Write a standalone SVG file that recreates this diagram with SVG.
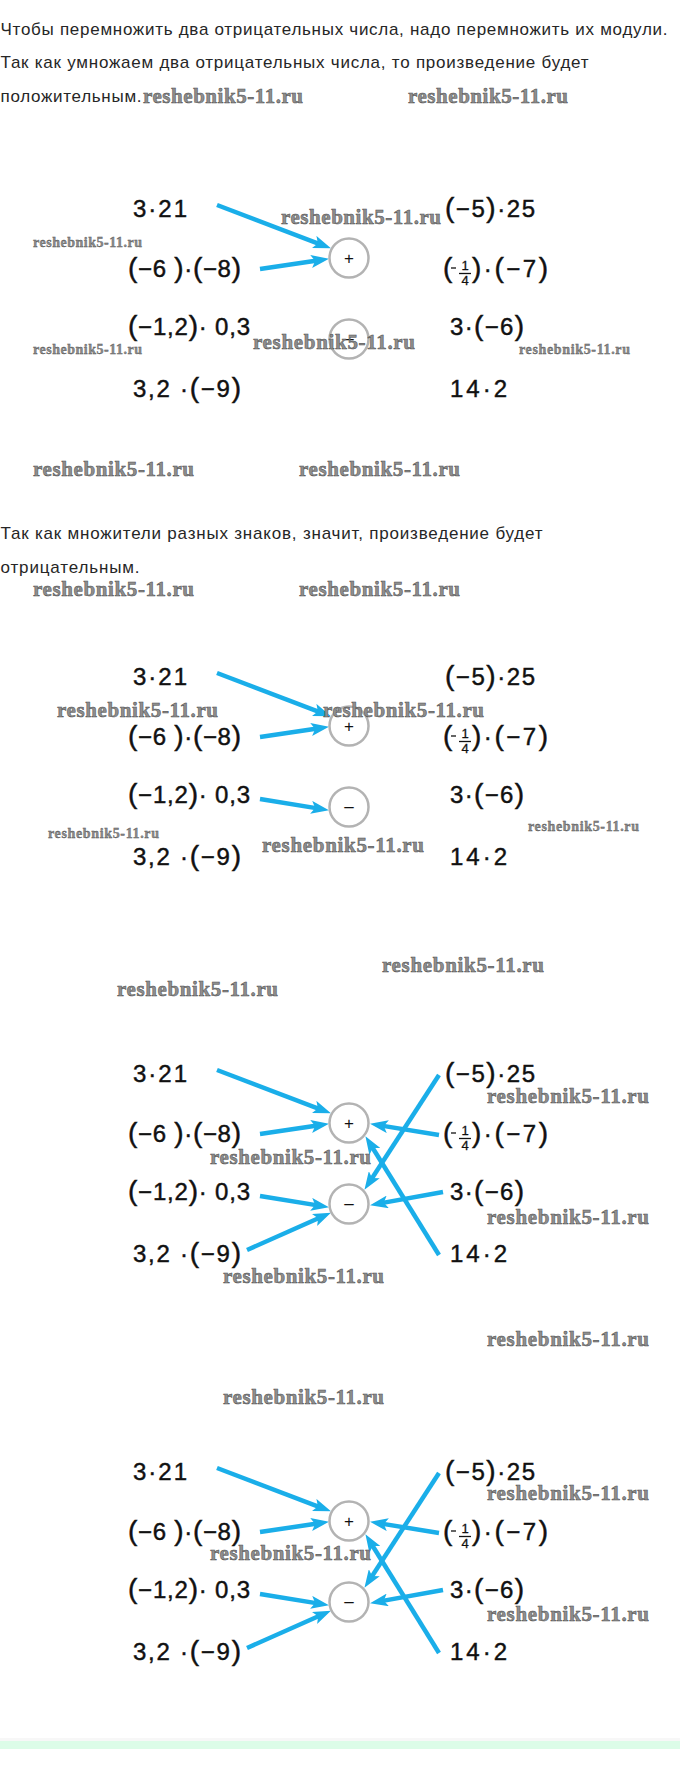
<svg xmlns="http://www.w3.org/2000/svg" width="680" height="1785" viewBox="0 0 680 1785">
<style>
.t{font-family:"Liberation Sans",Arial,sans-serif;font-size:17px;fill:#262626}
.m{font-family:"Liberation Sans",Arial,sans-serif;font-size:24px;fill:#111;stroke:#111;stroke-width:0.45}
.p{font-size:28px}
.fr{font-family:"Liberation Sans",Arial,sans-serif;font-size:13px;fill:#111;stroke:#111;stroke-width:0.3}
.sg{font-family:"Liberation Sans",Arial,sans-serif;font-size:17px;fill:#111;text-anchor:middle}
.c{fill:#fff;stroke:#b3b3b3;stroke-width:2.5}
.a{stroke:#1aaee9;stroke-width:4.5;fill:none;marker-end:url(#ah)}
.fl{stroke:#111;stroke-width:1.3}
.w{font-family:"Liberation Serif","Times New Roman",serif;font-weight:bold;font-size:21px;fill:#8e8e8e;stroke:#4d4d4d;stroke-width:0.5}
.ws{font-size:14px;stroke-width:0.35}
</style>
<defs>
<marker id="ah" markerUnits="userSpaceOnUse" markerWidth="18" markerHeight="13" refX="8" refY="6.5" orient="auto" viewBox="0 0 18 13"><path d="M0,0 L18,6.5 L0,13 L4,6.5 Z" fill="#1aaee9"/></marker>
</defs>
<rect width="680" height="1785" fill="#fff"/>

<g id="text">
<text class="t" x="0.5" y="35" textLength="667">Чтобы перемножить два отрицательных числа, надо перемножить их модули.</text>
<text class="t" x="0.5" y="68" textLength="588">Так как умножаем два отрицательных числа, то произведение будет</text>
<text class="t" x="0.5" y="102" textLength="141">положительным.</text>
<text class="t" x="0.5" y="539" textLength="542">Так как множители разных знаков, значит, произведение будет</text>
<text class="t" x="0.5" y="573" textLength="139">отрицательным.</text>
</g>

<!-- Diagram 1 -->
<g id="d1">
<g id="d1-connectors">
<line class="a" x1="217" y1="205" x2="321.6" y2="244.8"/>
<line class="a" x1="260" y1="269" x2="319.1" y2="260.3"/>
</g>
<g id="d1-plus"><circle class="c" cx="349" cy="258" r="19.5"/><text class="sg" x="349" y="264">+</text></g>
<g id="d1-minus"><circle class="c" cx="349" cy="339" r="19.5"/><text class="sg" x="349" y="344">–</text></g>
<g id="d1-l1"><text class="m" x="133" y="217" textLength="54">3·21</text></g>
<g id="d1-l2"><text class="m" x="128" y="277" textLength="113"><tspan class="p">(</tspan>−6 <tspan class="p">)</tspan>·<tspan class="p">(</tspan>−8<tspan class="p">)</tspan></text></g>
<g id="d1-l3"><text class="m" x="128" y="335" textLength="122"><tspan class="p">(</tspan>−1,2<tspan class="p">)</tspan>· 0,3</text></g>
<g id="d1-l4"><text class="m" x="133" y="397" textLength="108">3,2 ·<tspan class="p">(</tspan>−9<tspan class="p">)</tspan></text></g>
<g id="d1-r1"><text class="m" x="445" y="217" textLength="90"><tspan class="p">(</tspan>−5<tspan class="p">)</tspan>·25</text></g>
<g id="d1-r2"><text class="m" x="443" y="277"><tspan class="p">(</tspan></text><line class="fl" x1="451" y1="268" x2="456" y2="268"/><text class="fr" x="465" y="270" text-anchor="middle">1</text><line class="fl" x1="459" y1="273.5" x2="471" y2="273.5"/><text class="fr" x="465" y="285" text-anchor="middle">4</text><text class="m" x="472" y="277" textLength="76"><tspan class="p">)</tspan>·<tspan class="p">(</tspan>−7<tspan class="p">)</tspan></text></g>
<g id="d1-r3"><text class="m" x="450" y="335" textLength="74">3·<tspan class="p">(</tspan>−6<tspan class="p">)</tspan></text></g>
<g id="d1-r4"><text class="m" x="450" y="397" textLength="57">14·2</text></g>
</g>

<!-- Diagram 2 -->
<g id="d2" transform="translate(0,468)">
<g id="d2-connectors">
<line class="a" x1="217" y1="205" x2="321.6" y2="244.8"/>
<line class="a" x1="260" y1="269" x2="319.1" y2="260.3"/>
<line class="a" x1="260" y1="331" x2="319.1" y2="340.6"/>
</g>
<g id="d2-plus"><circle class="c" cx="349" cy="258" r="19.5"/><text class="sg" x="349" y="264">+</text></g>
<g id="d2-minus"><circle class="c" cx="349" cy="339" r="19.5"/><text class="sg" x="349" y="344">–</text></g>
<g id="d2-l1"><text class="m" x="133" y="217" textLength="54">3·21</text></g>
<g id="d2-l2"><text class="m" x="128" y="277" textLength="113"><tspan class="p">(</tspan>−6 <tspan class="p">)</tspan>·<tspan class="p">(</tspan>−8<tspan class="p">)</tspan></text></g>
<g id="d2-l3"><text class="m" x="128" y="335" textLength="122"><tspan class="p">(</tspan>−1,2<tspan class="p">)</tspan>· 0,3</text></g>
<g id="d2-l4"><text class="m" x="133" y="397" textLength="108">3,2 ·<tspan class="p">(</tspan>−9<tspan class="p">)</tspan></text></g>
<g id="d2-r1"><text class="m" x="445" y="217" textLength="90"><tspan class="p">(</tspan>−5<tspan class="p">)</tspan>·25</text></g>
<g id="d2-r2"><text class="m" x="443" y="277"><tspan class="p">(</tspan></text><line class="fl" x1="451" y1="268" x2="456" y2="268"/><text class="fr" x="465" y="270" text-anchor="middle">1</text><line class="fl" x1="459" y1="273.5" x2="471" y2="273.5"/><text class="fr" x="465" y="285" text-anchor="middle">4</text><text class="m" x="472" y="277" textLength="76"><tspan class="p">)</tspan>·<tspan class="p">(</tspan>−7<tspan class="p">)</tspan></text></g>
<g id="d2-r3"><text class="m" x="450" y="335" textLength="74">3·<tspan class="p">(</tspan>−6<tspan class="p">)</tspan></text></g>
<g id="d2-r4"><text class="m" x="450" y="397" textLength="57">14·2</text></g>
</g>

<!-- Diagram 3 -->
<g id="d3" transform="translate(0,865)">
<g id="d3-connectors">
<line class="a" x1="217" y1="205" x2="321.6" y2="244.8"/>
<line class="a" x1="260" y1="269" x2="319.1" y2="260.3"/>
<line class="a" x1="260" y1="331" x2="319.1" y2="340.6"/>
<line class="a" x1="247" y1="385" x2="321.8" y2="351.7"/>
<line class="a" x1="439" y1="210" x2="369.9" y2="316.4"/>
<line class="a" x1="439" y1="270" x2="379.9" y2="260.4"/>
<line class="a" x1="443" y1="327" x2="379.9" y2="338.4"/>
<line class="a" x1="439" y1="390" x2="370.7" y2="279.7"/>
</g>
<g id="d3-plus"><circle class="c" cx="349" cy="258" r="19.5"/><text class="sg" x="349" y="264">+</text></g>
<g id="d3-minus"><circle class="c" cx="349" cy="339" r="19.5"/><text class="sg" x="349" y="344">–</text></g>
<g id="d3-l1"><text class="m" x="133" y="217" textLength="54">3·21</text></g>
<g id="d3-l2"><text class="m" x="128" y="277" textLength="113"><tspan class="p">(</tspan>−6 <tspan class="p">)</tspan>·<tspan class="p">(</tspan>−8<tspan class="p">)</tspan></text></g>
<g id="d3-l3"><text class="m" x="128" y="335" textLength="122"><tspan class="p">(</tspan>−1,2<tspan class="p">)</tspan>· 0,3</text></g>
<g id="d3-l4"><text class="m" x="133" y="397" textLength="108">3,2 ·<tspan class="p">(</tspan>−9<tspan class="p">)</tspan></text></g>
<g id="d3-r1"><text class="m" x="445" y="217" textLength="90"><tspan class="p">(</tspan>−5<tspan class="p">)</tspan>·25</text></g>
<g id="d3-r2"><text class="m" x="443" y="277"><tspan class="p">(</tspan></text><line class="fl" x1="451" y1="268" x2="456" y2="268"/><text class="fr" x="465" y="270" text-anchor="middle">1</text><line class="fl" x1="459" y1="273.5" x2="471" y2="273.5"/><text class="fr" x="465" y="285" text-anchor="middle">4</text><text class="m" x="472" y="277" textLength="76"><tspan class="p">)</tspan>·<tspan class="p">(</tspan>−7<tspan class="p">)</tspan></text></g>
<g id="d3-r3"><text class="m" x="450" y="335" textLength="74">3·<tspan class="p">(</tspan>−6<tspan class="p">)</tspan></text></g>
<g id="d3-r4"><text class="m" x="450" y="397" textLength="57">14·2</text></g>
</g>

<!-- Diagram 4 -->
<g id="d4" transform="translate(0,1263)">
<g id="d4-connectors">
<line class="a" x1="217" y1="205" x2="321.6" y2="244.8"/>
<line class="a" x1="260" y1="269" x2="319.1" y2="260.3"/>
<line class="a" x1="260" y1="331" x2="319.1" y2="340.6"/>
<line class="a" x1="247" y1="385" x2="321.8" y2="351.7"/>
<line class="a" x1="439" y1="210" x2="369.9" y2="316.4"/>
<line class="a" x1="439" y1="270" x2="379.9" y2="260.4"/>
<line class="a" x1="443" y1="327" x2="379.9" y2="338.4"/>
<line class="a" x1="439" y1="390" x2="370.7" y2="279.7"/>
</g>
<g id="d4-plus"><circle class="c" cx="349" cy="258" r="19.5"/><text class="sg" x="349" y="264">+</text></g>
<g id="d4-minus"><circle class="c" cx="349" cy="339" r="19.5"/><text class="sg" x="349" y="344">–</text></g>
<g id="d4-l1"><text class="m" x="133" y="217" textLength="54">3·21</text></g>
<g id="d4-l2"><text class="m" x="128" y="277" textLength="113"><tspan class="p">(</tspan>−6 <tspan class="p">)</tspan>·<tspan class="p">(</tspan>−8<tspan class="p">)</tspan></text></g>
<g id="d4-l3"><text class="m" x="128" y="335" textLength="122"><tspan class="p">(</tspan>−1,2<tspan class="p">)</tspan>· 0,3</text></g>
<g id="d4-l4"><text class="m" x="133" y="397" textLength="108">3,2 ·<tspan class="p">(</tspan>−9<tspan class="p">)</tspan></text></g>
<g id="d4-r1"><text class="m" x="445" y="217" textLength="90"><tspan class="p">(</tspan>−5<tspan class="p">)</tspan>·25</text></g>
<g id="d4-r2"><text class="m" x="443" y="277"><tspan class="p">(</tspan></text><line class="fl" x1="451" y1="268" x2="456" y2="268"/><text class="fr" x="465" y="270" text-anchor="middle">1</text><line class="fl" x1="459" y1="273.5" x2="471" y2="273.5"/><text class="fr" x="465" y="285" text-anchor="middle">4</text><text class="m" x="472" y="277" textLength="76"><tspan class="p">)</tspan>·<tspan class="p">(</tspan>−7<tspan class="p">)</tspan></text></g>
<g id="d4-r3"><text class="m" x="450" y="335" textLength="74">3·<tspan class="p">(</tspan>−6<tspan class="p">)</tspan></text></g>
<g id="d4-r4"><text class="m" x="450" y="397" textLength="57">14·2</text></g>
</g>

<g id="watermarks">
<text class="w" x="143" y="103" textLength="160">reshebnik5-11.ru</text>
<text class="w" x="408" y="103" textLength="160">reshebnik5-11.ru</text>
<text class="w" x="281" y="224" textLength="160">reshebnik5-11.ru</text>
<text class="w ws" x="33" y="247" textLength="109">reshebnik5-11.ru</text>
<text class="w" x="253" y="349" textLength="162">reshebnik5-11.ru</text>
<text class="w ws" x="33" y="354" textLength="109">reshebnik5-11.ru</text>
<text class="w ws" x="519" y="354" textLength="111">reshebnik5-11.ru</text>
<text class="w" x="33" y="476" textLength="161">reshebnik5-11.ru</text>
<text class="w" x="299" y="476" textLength="161">reshebnik5-11.ru</text>
<text class="w" x="33" y="596" textLength="161">reshebnik5-11.ru</text>
<text class="w" x="299" y="596" textLength="161">reshebnik5-11.ru</text>
<text class="w" x="57" y="717" textLength="161">reshebnik5-11.ru</text>
<text class="w" x="323" y="717" textLength="161">reshebnik5-11.ru</text>
<text class="w ws" x="48" y="838" textLength="111">reshebnik5-11.ru</text>
<text class="w" x="262" y="852" textLength="162">reshebnik5-11.ru</text>
<text class="w ws" x="528" y="831" textLength="111">reshebnik5-11.ru</text>
<text class="w" x="382" y="972" textLength="162">reshebnik5-11.ru</text>
<text class="w" x="117" y="996" textLength="161">reshebnik5-11.ru</text>
<text class="w" x="487" y="1103" textLength="162">reshebnik5-11.ru</text>
<text class="w" x="210" y="1164" textLength="161">reshebnik5-11.ru</text>
<text class="w" x="487" y="1224" textLength="162">reshebnik5-11.ru</text>
<text class="w" x="223" y="1283" textLength="161">reshebnik5-11.ru</text>
<text class="w" x="487" y="1346" textLength="162">reshebnik5-11.ru</text>
<text class="w" x="223" y="1404" textLength="161">reshebnik5-11.ru</text>
<text class="w" x="487" y="1500" textLength="162">reshebnik5-11.ru</text>
<text class="w" x="210" y="1560" textLength="161">reshebnik5-11.ru</text>
<text class="w" x="487" y="1621" textLength="162">reshebnik5-11.ru</text>
</g>

<rect x="0" y="1738" width="680" height="3" fill="#f7f7f7"/>
<rect x="0" y="1741" width="680" height="8" fill="#dcfce8"/>
</svg>
